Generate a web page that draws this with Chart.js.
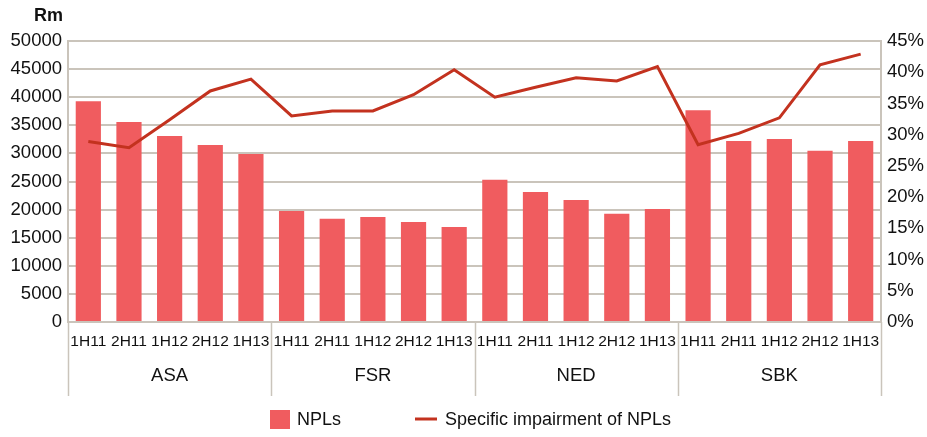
<!DOCTYPE html>
<html>
<head>
<meta charset="utf-8">
<script src="https://cdn.jsdelivr.net/npm/chart.js@4"></script>
<style>
  html, body { margin: 0; padding: 0; background: #fff; }
  #wrap { width: 927px; height: 437px; }
</style>
</head>
<body>
<div id="wrap"><canvas id="chartCanvas" width="927" height="437"></canvas></div>
<script>
// Chart data
const banks = ['ASA', 'FSR', 'NED', 'SBK'];
const periods = ['1H11', '2H11', '1H12', '2H12', '1H13'];
const npls = [
    39300, 35600, 33100, 31500, 29900,
    19750, 18350, 18700, 17800, 16900,
    25300, 23150, 21700, 19250, 20100,
    37700, 32200, 32550, 30450, 32200
];
const impairment = [
    28.9, 27.9, 32.4, 37.0, 38.9,
    33.0, 33.8, 33.8, 36.4, 40.4,
    36.0, 37.6, 39.1, 38.6, 40.9,
    28.4, 30.2, 32.7, 41.2, 42.9
];
const leftTicks = [0, 5000, 10000, 15000, 20000, 25000, 30000, 35000, 40000, 45000, 50000];
const rightTicks = [0, 5, 10, 15, 20, 25, 30, 35, 40, 45];

const barColor = '#f05c5f';
const lineColor = '#c3321f';
const gridColor = '#cac4bb';
const fontFamily = '"Liberation Sans", Arial, Helvetica, sans-serif';

// one label per bar, groups are drawn by the plugin below
const labels = [];
banks.forEach(() => periods.forEach(p => labels.push(p)));

// Draws "Rm", the bank group labels with separators, and the legend
const extrasPlugin = {
    id: 'extras',
    afterDraw(chart) {
        const ctx = chart.ctx;
        const x = chart.scales.x;
        const y = chart.scales.y;
        const area = chart.chartArea;
        const perGroup = periods.length;
        const barSet = chart.data.datasets.find(d => d.type === 'bar');
        const lineSet = chart.data.datasets.find(d => d.type === 'line');
        ctx.save();

        // Rm title
        ctx.font = 'bold 18px ' + fontFamily;
        ctx.fillStyle = '#111';
        ctx.textAlign = 'right';
        ctx.textBaseline = 'middle';
        ctx.fillText('Rm', y.right - 5, 16);

        // group separators and labels
        const half = (x.getPixelForValue(1) - x.getPixelForValue(0)) / 2;
        ctx.strokeStyle = gridColor;
        ctx.lineWidth = 1.5;
        for (let g = 0; g <= banks.length; g++) {
            let px = g < banks.length
                ? x.getPixelForValue(g * perGroup) - half
                : x.getPixelForValue(g * perGroup - 1) + half;
            px = Math.round(px) + 0.5;
            ctx.beginPath();
            ctx.moveTo(px, area.bottom);
            ctx.lineTo(px, area.bottom + 74);
            ctx.stroke();
        }
        ctx.font = '18.5px ' + fontFamily;
        ctx.fillStyle = '#111';
        ctx.textAlign = 'center';
        banks.forEach((b, g) => {
            const a = x.getPixelForValue(g * perGroup) - half;
            const e = x.getPixelForValue(g * perGroup + perGroup - 1) + half;
            ctx.fillText(b, (a + e) / 2, area.bottom + 54);
        });

        // legend
        const ly = 420;
        ctx.font = '18px ' + fontFamily;
        ctx.textAlign = 'left';
        ctx.fillStyle = barSet.backgroundColor;
        ctx.fillRect(270, ly - 10, 20, 19);
        ctx.fillStyle = '#111';
        ctx.fillText(barSet.label, 297, ly);
        ctx.strokeStyle = lineSet.borderColor;
        ctx.lineWidth = 3;
        ctx.beginPath();
        ctx.moveTo(415, ly - 1);
        ctx.lineTo(437, ly - 1);
        ctx.stroke();
        ctx.fillText(lineSet.label, 445, ly);
        ctx.restore();
    }
};

new Chart(document.getElementById('chartCanvas'), {
    type: 'bar',
    data: {
        labels: labels,
        datasets: [
            {
                type: 'line',
                label: 'Specific impairment of NPLs',
                data: impairment,
                yAxisID: 'y2',
                borderColor: lineColor,
                borderWidth: 3,
                pointRadius: 0,
                tension: 0,
                order: 0
            },
            {
                type: 'bar',
                label: 'NPLs',
                data: npls,
                yAxisID: 'y',
                backgroundColor: barColor,
                categoryPercentage: 1,
                barPercentage: 0.62,
                order: 1
            }
        ]
    },
    options: {
        responsive: false,
        animation: false,
        layout: { padding: { top: 41, bottom: 37, left: 0, right: 0 } },
        plugins: {
            legend: { display: false },
            tooltip: { enabled: false }
        },
        scales: {
            x: {
                grid: { display: false, drawTicks: false },
                border: { color: gridColor, width: 2 },
                ticks: {
                    color: '#111',
                    font: { family: fontFamily, size: 15.5 },
                    padding: 10,
                    maxRotation: 0,
                    autoSkip: false
                },
                afterFit(scale) { scale.height = 78; }
            },
            y: {
                position: 'left',
                min: 0,
                max: 50000,
                afterBuildTicks(scale) { scale.ticks = leftTicks.map(v => ({ value: v })); },
                grid: { color: gridColor, lineWidth: 2, drawTicks: false },
                border: { color: gridColor, width: 2 },
                ticks: {
                    color: '#111',
                    font: { family: fontFamily, size: 18.5 },
                    padding: 6,
                    callback: v => String(v)
                },
                afterFit(scale) { scale.width = 68; }
            },
            y2: {
                position: 'right',
                min: 0,
                max: 45,
                afterBuildTicks(scale) { scale.ticks = rightTicks.map(v => ({ value: v })); },
                grid: { drawOnChartArea: false, drawTicks: false },
                border: { color: gridColor, width: 2 },
                ticks: {
                    color: '#111',
                    font: { family: fontFamily, size: 18.5 },
                    padding: 6,
                    callback: v => v + '%'
                },
                afterFit(scale) { scale.width = 46; }
            }
        }
    },
    plugins: [extrasPlugin]
});
</script>
</body>
</html>
